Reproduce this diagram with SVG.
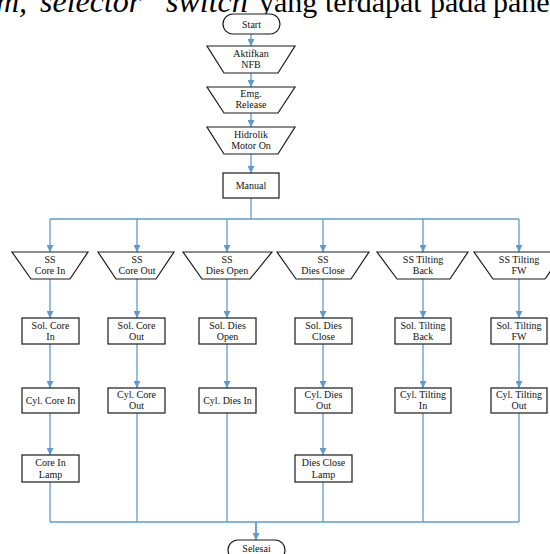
<svg xmlns="http://www.w3.org/2000/svg" width="550" height="554" viewBox="0 0 550 554">
<defs>
<marker id="ah" viewBox="0 0 10 10" refX="10" refY="5" markerWidth="7" markerHeight="7" markerUnits="userSpaceOnUse" orient="auto">
<path d="M0,0 L10,5 L0,10 z" fill="#5B9BD5"/>
</marker>
<style>
.c{fill:none;stroke:#5B9BD5;stroke-width:1.3}
.a{marker-end:url(#ah)}
.n{fill:#fff;stroke:#1a1a1a;stroke-width:1.2}
.t{font-family:"Liberation Serif","Times New Roman",serif;font-size:10px;fill:#111;text-anchor:middle}
.h{font-family:"Liberation Serif","Times New Roman",serif;font-size:30px;fill:#000}
.i{font-style:italic;font-size:32px}
</style>
</defs>
<rect width="550" height="554" fill="#fff"/>
<text class="h" y="12"><tspan class="i" x="-4">m,</tspan><tspan class="i" x="40">selector</tspan><tspan class="i" x="166">switch</tspan><tspan x="259">yang</tspan><tspan x="325">terdapat</tspan><tspan x="430">pada</tspan><tspan x="493">panel</tspan></text>

<g id="connectors">
<line class="c a" x1="251" y1="34" x2="251" y2="46"/>
<line class="c a" x1="251" y1="73" x2="251" y2="87"/>
<line class="c a" x1="251" y1="113" x2="251" y2="127"/>
<line class="c a" x1="251" y1="154" x2="251" y2="173"/>
<polyline class="c" points="251,198 251,219"/>
<polyline class="c" points="50,219 519,219"/>
<line class="c a" x1="50" y1="219" x2="50" y2="252"/>
<line class="c a" x1="137" y1="219" x2="137" y2="252"/>
<line class="c a" x1="227" y1="219" x2="227" y2="252"/>
<line class="c a" x1="323" y1="219" x2="323" y2="252"/>
<line class="c a" x1="423" y1="219" x2="423" y2="252"/>
<line class="c a" x1="519" y1="219" x2="519" y2="252"/>
<line class="c a" x1="50" y1="279" x2="50" y2="318"/>
<line class="c a" x1="137" y1="279" x2="137" y2="318"/>
<line class="c a" x1="227" y1="279" x2="227" y2="318"/>
<line class="c a" x1="323" y1="279" x2="323" y2="318"/>
<line class="c a" x1="423" y1="279" x2="423" y2="318"/>
<line class="c a" x1="519" y1="279" x2="519" y2="318"/>
<line class="c a" x1="50" y1="344" x2="50" y2="388"/>
<line class="c a" x1="137" y1="344" x2="137" y2="388"/>
<line class="c a" x1="227" y1="344" x2="227" y2="388"/>
<line class="c a" x1="323" y1="344" x2="323" y2="388"/>
<line class="c a" x1="423" y1="344" x2="423" y2="388"/>
<line class="c a" x1="519" y1="344" x2="519" y2="388"/>
<line class="c a" x1="50" y1="413" x2="50" y2="455"/>
<line class="c a" x1="323" y1="413" x2="323" y2="455"/>
<line class="c" x1="50" y1="482" x2="50" y2="522"/>
<line class="c" x1="137" y1="413" x2="137" y2="522"/>
<line class="c" x1="227" y1="413" x2="227" y2="522"/>
<line class="c" x1="323" y1="482" x2="323" y2="522"/>
<line class="c" x1="423" y1="413" x2="423" y2="522"/>
<line class="c" x1="519" y1="413" x2="519" y2="522"/>
<line class="c" x1="50" y1="522" x2="519" y2="522"/>
<line class="c a" x1="256" y1="522" x2="256" y2="540" style="stroke-width:1.8"/>
</g>

<g id="start"><rect class="n" x="223" y="14" width="57" height="20" rx="10"/><text class="t" x="251.5" y="27.5">Start</text></g>
<g id="aktifkan"><polygon class="n" points="207,46 295,46 278,73 224,73"/><text class="t" x="251" y="57">Aktifkan</text><text class="t" x="251" y="68">NFB</text></g>
<g id="emg"><polygon class="n" points="207,87 295,87 278,113 224,113"/><text class="t" x="251" y="97">Emg.</text><text class="t" x="251" y="108">Release</text></g>
<g id="hidrolik"><polygon class="n" points="207,127 295,127 278,154 224,154"/><text class="t" x="251" y="138">Hidrolik</text><text class="t" x="251" y="149">Motor On</text></g>
<g id="manual"><rect class="n" x="223" y="173" width="56" height="25"/><text class="t" x="251" y="189">Manual</text></g>

<g id="ss-core-in"><polygon class="n" points="12,252 88,252 70,279 31,279"/><text class="t" x="50" y="263">SS</text><text class="t" x="50" y="274">Core In</text></g>
<g id="ss-core-out"><polygon class="n" points="98,252 174,252 156,279 116,279"/><text class="t" x="137" y="263">SS</text><text class="t" x="137" y="274">Core Out</text></g>
<g id="ss-dies-open"><polygon class="n" points="183,252 272,252 250,279 202,279"/><text class="t" x="227" y="263">SS</text><text class="t" x="227" y="274">Dies Open</text></g>
<g id="ss-dies-close"><polygon class="n" points="277,252 369,252 351,279 296,279"/><text class="t" x="323" y="263">SS</text><text class="t" x="323" y="274">Dies Close</text></g>
<g id="ss-tilting-back"><polygon class="n" points="377,252 468,252 450,279 397,279"/><text class="t" x="423" y="263">SS Tilting</text><text class="t" x="423" y="274">Back</text></g>
<g id="ss-tilting-fw"><polygon class="n" points="474,252 564,252 545,279 493,279"/><text class="t" x="519" y="263">SS Tilting</text><text class="t" x="519" y="274">FW</text></g>

<g id="sol-core-in"><rect class="n" x="22" y="318" width="57" height="26"/><text class="t" x="50.5" y="328.5">Sol. Core</text><text class="t" x="50.5" y="340">In</text></g>
<g id="sol-core-out"><rect class="n" x="108" y="318" width="57" height="26"/><text class="t" x="136.5" y="328.5">Sol. Core</text><text class="t" x="136.5" y="340">Out</text></g>
<g id="sol-dies-open"><rect class="n" x="199" y="318" width="57" height="26"/><text class="t" x="227.5" y="328.5">Sol. Dies</text><text class="t" x="227.5" y="340">Open</text></g>
<g id="sol-dies-close"><rect class="n" x="295" y="318" width="57" height="26"/><text class="t" x="323.5" y="328.5">Sol. Dies</text><text class="t" x="323.5" y="340">Close</text></g>
<g id="sol-tilting-back"><rect class="n" x="395" y="318" width="56" height="26"/><text class="t" x="423" y="328.5">Sol. Tilting</text><text class="t" x="423" y="340">Back</text></g>
<g id="sol-tilting-fw"><rect class="n" x="491" y="318" width="56" height="26"/><text class="t" x="519" y="328.5">Sol. Tilting</text><text class="t" x="519" y="340">FW</text></g>

<g id="cyl-core-in"><rect class="n" x="22" y="388" width="57" height="25"/><text class="t" x="50.5" y="404">Cyl. Core In</text></g>
<g id="cyl-core-out"><rect class="n" x="108" y="388" width="57" height="25"/><text class="t" x="136.5" y="398">Cyl. Core</text><text class="t" x="136.5" y="409">Out</text></g>
<g id="cyl-dies-in"><rect class="n" x="199" y="388" width="57" height="25"/><text class="t" x="227.5" y="404">Cyl. Dies In</text></g>
<g id="cyl-dies-out"><rect class="n" x="295" y="388" width="57" height="25"/><text class="t" x="323.5" y="398">Cyl. Dies</text><text class="t" x="323.5" y="409">Out</text></g>
<g id="cyl-tilting-in"><rect class="n" x="395" y="388" width="56" height="25"/><text class="t" x="423" y="398">Cyl. Tilting</text><text class="t" x="423" y="409">In</text></g>
<g id="cyl-tilting-out"><rect class="n" x="491" y="388" width="56" height="25"/><text class="t" x="519" y="398">Cyl. Tilting</text><text class="t" x="519" y="409">Out</text></g>

<g id="core-in-lamp"><rect class="n" x="22" y="455" width="57" height="27"/><text class="t" x="50.5" y="466">Core In</text><text class="t" x="50.5" y="477.5">Lamp</text></g>
<g id="dies-close-lamp"><rect class="n" x="295" y="455" width="57" height="27"/><text class="t" x="323.5" y="466">Dies Close</text><text class="t" x="323.5" y="477.5">Lamp</text></g>

<g id="selesai"><rect class="n" x="228" y="540" width="57" height="20" rx="10"/><text class="t" x="256.5" y="552">Selesai</text></g>
</svg>
